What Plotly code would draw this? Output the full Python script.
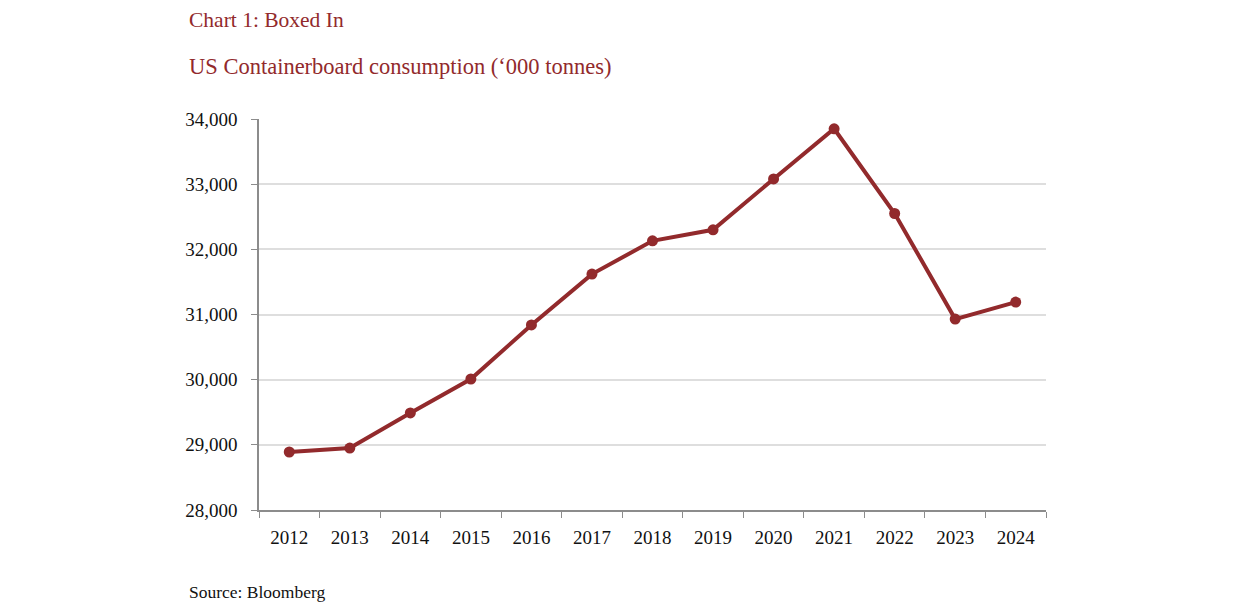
import plotly.graph_objects as go

years = ["2012", "2013", "2014", "2015", "2016", "2017", "2018",
         "2019", "2020", "2021", "2022", "2023", "2024"]
consumption = [28890, 28950, 29490, 30010, 30840, 31620, 32130,
               32300, 33080, 33850, 32550, 30930, 31190]
y_ticks = [28000, 29000, 30000, 31000, 32000, 33000, 34000]

RED = "#922a2c"
FONT = "Liberation Serif"

fig = go.Figure()
fig.add_trace(go.Scatter(
    x=years, y=consumption,
    mode="lines+markers",
    line=dict(color=RED, width=4),
    marker=dict(color=RED, size=11),
    hoverinfo="x+y",
))

# page body adds an 8px margin, so the figure is trimmed by that amount
fig.update_layout(
    width=1233, height=608,
    margin=dict(l=251, r=195, t=111, b=106),
    plot_bgcolor="white", paper_bgcolor="white",
    showlegend=False,
    font=dict(family=FONT, size=19, color="#111111"),
    xaxis=dict(
        type="category", tickson="boundaries", range=[-0.5, 12.5],
        ticks="outside", ticklen=6, tickcolor="#8c8c8c",
        showline=True, linecolor="#8c8c8c", linewidth=1.5,
        showgrid=False, tickfont=dict(size=19), ticklabelstandoff=9,
    ),
    yaxis=dict(
        range=[28000, 34000], tickvals=y_ticks, tickformat=",d",
        ticks="outside", ticklen=6, tickcolor="#8c8c8c",
        showline=True, linecolor="#8c8c8c", linewidth=1.5,
        gridcolor="#dedede", gridwidth=1.5, zeroline=False,
        tickfont=dict(size=19), ticklabelstandoff=10,
    ),
    annotations=[
        dict(text="Chart 1: Boxed In", xref="paper", yref="paper",
             x=-0.0915, y=1.2532, xanchor="left", yanchor="middle",
             showarrow=False, font=dict(family=FONT, size=21.5, color=RED)),
        dict(text="US Containerboard consumption (‘000 tonnes)",
             xref="paper", yref="paper",
             x=-0.0915, y=1.1355, xanchor="left", yanchor="middle",
             showarrow=False, font=dict(family=FONT, size=22.5, color=RED)),
        dict(text="Source: Bloomberg", xref="paper", yref="paper",
             x=-0.0915, y=-0.2097, xanchor="left", yanchor="middle",
             showarrow=False, font=dict(family=FONT, size=17.5, color="#111111")),
    ],
)

fig.write_html("out.html")
